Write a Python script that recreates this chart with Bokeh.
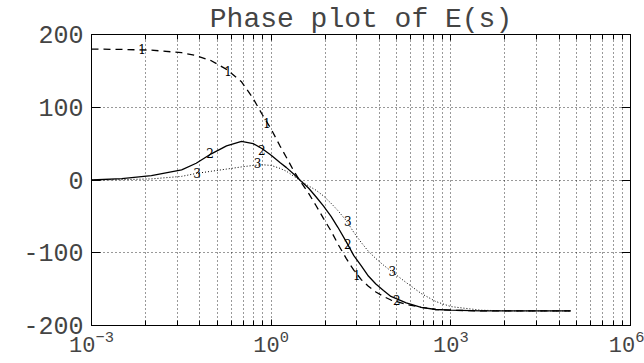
from bokeh.plotting import figure
from bokeh.models import FixedTicker, LinearAxis, Range1d, ColumnDataSource
from bokeh.core.properties import value
from bokeh.embed import file_html
from bokeh.resources import INLINE

# ---------------- data ----------------
title_text = "Phase plot of E(s)"

freq = [0.001, 0.0032, 0.01, 0.032, 0.056, 0.1, 0.18, 0.32, 0.5, 0.71,
        1.0, 1.4, 1.8, 2.4, 3.2, 4.2, 5.6, 7.5, 10, 13, 18, 24, 32, 42,
        56, 75, 100, 180, 320, 560, 1000, 3200, 10000, 100000]

phase1 = [180, 179.5, 178.5, 175, 171, 164, 152, 135, 112, 90,
          70, 47, 31, 12, -4, -18, -35, -53, -70, -88, -108, -124, -137, -146,
          -154, -160, -165, -171, -175, -178, -179, -180, -180, -180]

phase2 = [0, 2, 6, 14, 23, 36, 47, 53, 50, 43,
          34, 24, 17, 8, -2, -11, -23, -36, -50, -65, -85, -104, -118, -132,
          -143, -152, -160, -169, -175, -178, -179, -180, -180, -180]

phase3 = [0, 0.5, 1.5, 5, 9, 12, 15, 18, 20, 21,
          20, 16, 12, 5, -2, -8, -14, -22, -32, -42, -56, -72, -86, -98,
          -108, -117, -125, -141, -156, -167, -174, -179, -180, -180]

# curve labels ("1", "2", "3") along each curve
lab1_freq = [0.007, 0.19, 0.85, 27]
lab1_phase = [180, 150, 78, -131]
lab2_freq = [0.095, 0.7, 19, 125]
lab2_phase = [37, 41, -88, -165]
lab3_freq = [0.058, 0.59, 19, 105]
lab3_phase = [10, 23, -56, -125]

x_major = [1e-3, 1e0, 1e3, 1e6]
x_minor = [1e-3 * k ** 3 for k in range(2, 10)] + \
          [1e0 * k ** 3 for k in range(2, 10)] + \
          [1e3 * k ** 3 for k in range(2, 10)]
y_ticks = [-200, -100, 0, 100, 200]
y_grid = [-100, 0, 100]
y_labels = {-200: "-200", -100: "-100", 0: "0", 100: "100", 200: "200"}

TICK_FONT = "Liberation Mono"
TITLE_FONT = "Liberation Mono"
LABEL_FONT = "DejaVu Serif"

# ---------------- figure ----------------
p = figure(width=644, height=363,
           x_axis_type="log", x_range=Range1d(1e-3, 1e6), y_range=Range1d(-200, 200),
           output_backend="svg", toolbar_location=None,
           min_border_left=91, min_border_right=14, min_border_top=34, min_border_bottom=38,
           title=title_text, background_fill_color="white", border_fill_color="white")

p.title.text_font = TITLE_FONT
p.title.text_font_size = "28px"
p.title.text_font_style = "normal"
p.title.align = "center"
p.title.standoff = 0
p.title.offset = 0

p.outline_line_color = "black"
p.outline_line_width = 1

# x axis (bottom)
xt = FixedTicker(ticks=x_major, minor_ticks=x_minor)
xa = p.xaxis[0]
xa.ticker = xt
xa.major_label_text_font = TICK_FONT
xa.major_label_text_font_size = "22px"
xa.major_label_standoff = 4
xa.major_tick_in = 6
xa.major_tick_out = 0
xa.minor_tick_in = 5
xa.minor_tick_out = 0
xa.axis_line_color = "black"

# y axis (left)
yt = FixedTicker(ticks=y_ticks, minor_ticks=[])
ya = p.yaxis[0]
ya.ticker = yt
ya.major_label_overrides = y_labels
ya.major_label_text_font = TICK_FONT
ya.major_label_text_font_size = "25px"
ya.major_label_standoff = 8
ya.major_tick_in = 9
ya.major_tick_out = 0
ya.minor_tick_line_color = None
ya.axis_line_color = "black"

# top and right frame ticks, labels invisible
top = LinearAxis(ticker=FixedTicker(ticks=x_major, minor_ticks=x_minor),
                 major_label_text_font_size="1px", major_label_text_alpha=0,
                 major_label_standoff=0,
                 major_tick_in=6, major_tick_out=0, minor_tick_in=5, minor_tick_out=0,
                 axis_line_color="black")
p.add_layout(top, "above")
right = LinearAxis(ticker=FixedTicker(ticks=y_ticks, minor_ticks=[]),
                   major_label_text_font_size="1px", major_label_text_alpha=0,
                   major_label_standoff=0,
                   major_tick_in=9, major_tick_out=0, minor_tick_line_color=None,
                   axis_line_color="black")
p.add_layout(right, "right")

# grids (dotted)
p.xgrid.ticker = xt
p.xgrid.grid_line_color = "black"
p.xgrid.grid_line_dash = "1 3"
p.xgrid.grid_line_alpha = 0.8
p.xgrid.minor_grid_line_color = "black"
p.xgrid.minor_grid_line_dash = "1 3"
p.xgrid.minor_grid_line_alpha = 0.8
p.ygrid.ticker = FixedTicker(ticks=y_grid, minor_ticks=[])
p.ygrid.grid_line_color = "black"
p.ygrid.grid_line_dash = "1 3"
p.ygrid.grid_line_alpha = 0.8

# curves
src = ColumnDataSource(dict(f=freq, p1=phase1, p2=phase2, p3=phase3))
p.line("f", "p1", source=src, line_color="black", line_width=1.3, line_dash="7 5")
p.line("f", "p2", source=src, line_color="black", line_width=1.3)
p.line("f", "p3", source=src, line_color="black", line_width=1.0, line_dash="1 2")

for fx, py, t in ((lab1_freq, lab1_phase, "1"), (lab2_freq, lab2_phase, "2"), (lab3_freq, lab3_phase, "3")):
    lsrc = ColumnDataSource(dict(x=fx, y=py, t=[t] * len(fx)))
    p.text(x="x", y="y", text="t", source=lsrc, text_font=value(LABEL_FONT), text_font_size="12px",
           text_align="center", text_baseline="middle", text_color="black")

open("out.html", "w").write(file_html(p, INLINE))
